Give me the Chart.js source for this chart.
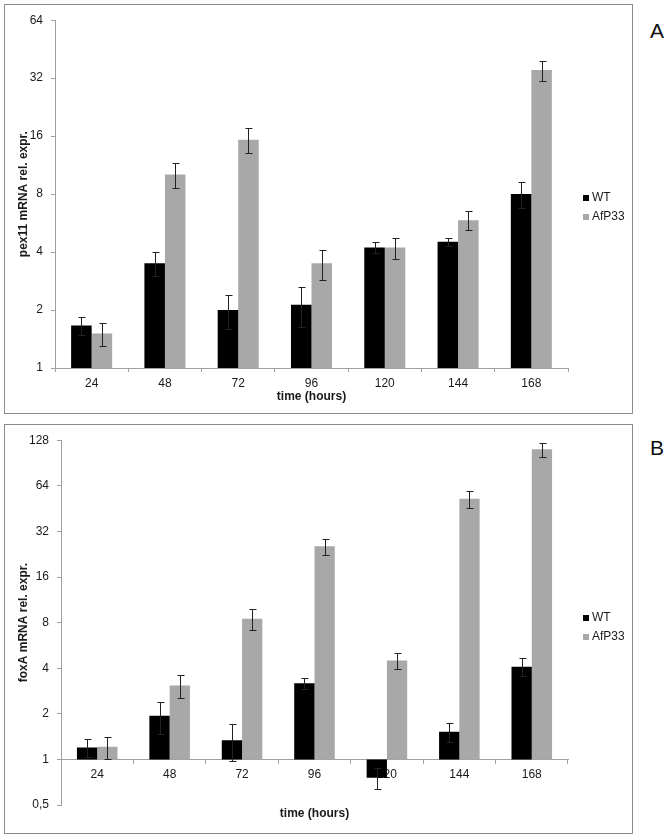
<!DOCTYPE html>
<html>
<head>
<meta charset="utf-8">
<script src="https://cdn.jsdelivr.net/npm/chart.js@4/dist/chart.umd.min.js"></script>
<style>
	body { margin: 0; background: #fff; width: 671px; height: 839px; position: relative; font-family: 'Liberation Sans', Arial, sans-serif; }
	.panel { position: absolute; left: 4px; width: 629px; height: 410px; box-sizing: border-box; border: 1px solid #8c8c8c; }
	.panel canvas { display: block; }
	.letter { position: absolute; left: 650px; font-size: 21px; color: #111; line-height: 21px; }
</style>
</head>
<body>
<div class="panel" style="top:4px"><canvas id="pex11" width="627" height="408"></canvas></div>
<div class="letter" style="top:20px">A</div>
<div class="panel" style="top:424px"><canvas id="foxA" width="627" height="408"></canvas></div>
<div class="letter" style="top:437px">B</div>
<script>
var hours = ['24', '48', '72', '96', '120', '144', '168'];

// panel A - pex11
var pex11WT = [1.66, 3.5, 2.0, 2.13, 4.22, 4.53, 8.0];
var pex11WTErr = [0.17, 0.5, 0.4, 0.5, 0.28, 0.23, 1.2];
var pex11AfP33 = [1.51, 10.1, 15.3, 3.5, 4.22, 5.85, 35.3];
var pex11AfP33Err = [0.21, 1.45, 2.25, 0.62, 0.53, 0.65, 4.2];
var ticksA = [1, 2, 4, 8, 16, 32, 64];
var tickLabelsA = ['1', '2', '4', '8', '16', '32', '64'];

// panel B - foxA
var foxAWT = [1.2, 1.94, 1.34, 3.18, 0.757, 1.52, 4.09];
var foxAWTErr = [0.16, 0.46, 0.37, 0.25, 0.12, 0.21, 0.56];
var foxAAfP33 = [1.21, 3.08, 8.47, 25.5, 4.49, 52.5, 111.7];
var foxAAfP33Err = [0.2, 0.53, 1.35, 3.2, 0.55, 6.5, 11.8];
var ticksB = [0.5, 1, 2, 4, 8, 16, 32, 64, 128];
var tickLabelsB = ['0,5', '1', '2', '4', '8', '16', '32', '64', '128'];

Chart.defaults.font.family = "'Liberation Sans', Arial, sans-serif";
Chart.defaults.font.size = 12;
Chart.defaults.color = '#1a1a1a';

var axisGrey = '#a0a0a0';

// error bars, symmetric sd around the bar value
var errorBars = {
	id: 'errorBars',
	afterDatasetsDraw: function(chart) {
		var ctx = chart.ctx;
		var y = chart.scales.y;
		ctx.save();
		ctx.strokeStyle = '#222';
		ctx.lineWidth = 1;
		chart.data.datasets.forEach(function(ds, i) {
			var meta = chart.getDatasetMeta(i);
			meta.data.forEach(function(bar, j) {
				var v = ds.values[j], e = ds.errors[j];
				var x = Math.round(bar.x) + 0.5;
				var top = Math.round(y.getPixelForValue(v + e)) + 0.5;
				var bot = Math.round(y.getPixelForValue(v - e)) + 0.5;
				ctx.beginPath();
				ctx.moveTo(x, top); ctx.lineTo(x, bot);
				ctx.moveTo(x - 3, top); ctx.lineTo(x + 4, top);
				ctx.moveTo(x - 3, bot); ctx.lineTo(x + 4, bot);
				ctx.stroke();
			});
		});
		ctx.restore();
	}
};

// small legend on the right, centred on the panel
var sideLegend = {
	id: 'sideLegend',
	afterDraw: function(chart) {
		var ctx = chart.ctx;
		var x = chart.chartArea.right + 15;
		var mid = chart.height / 2 - 2;
		ctx.save();
		ctx.font = '12px ' + Chart.defaults.font.family;
		ctx.textBaseline = 'middle';
		chart.data.datasets.forEach(function(ds, i) {
			var yy = Math.round(mid - 9 + i * 19);
			ctx.fillStyle = ds.backgroundColor;
			ctx.fillRect(x, yy - 3, 6, 6);
			ctx.fillStyle = '#1a1a1a';
			ctx.fillText(ds.label, x + 9, yy);
		});
		ctx.restore();
	}
};

var makeChart = function(id, wt, wtErr, afp, afpErr, yTitle, ticks, tickLabels, opts) {
	var yScale = {
		type: 'logarithmic',
		min: ticks[0],
		max: ticks[ticks.length - 1],
		afterBuildTicks: function(axis) {
			axis.ticks = ticks.map(function(v) { return { value: v }; });
		},
		afterFit: function(axis) { axis.width = opts.yWidth; },
		ticks: {
			autoSkip: false,
			padding: 8,
			callback: function(value, index) { return tickLabels[index]; }
		},
		grid: { drawOnChartArea: false, drawTicks: true, tickLength: 4, color: axisGrey },
		border: { color: axisGrey },
		title: { display: true, text: yTitle, font: { weight: 'bold', size: 12 }, padding: { top: 11, bottom: 4 } }
	};
	var xScale = {
		type: 'category',
		offset: true,
		grid: { offset: true, drawOnChartArea: false, drawTicks: true, tickLength: 4, color: axisGrey },
		border: { color: axisGrey },
		ticks: { padding: 4, maxRotation: 0, autoSkip: false }
	};
	var scales = { y: yScale, x: xScale };
	if (opts.axisAtOne) {
		// category axis crosses at 1, title sits at the bottom on a second axis
		xScale.position = { y: 1 };
		scales.x2 = {
			type: 'category',
			position: 'bottom',
			grid: { display: false },
			border: { display: false },
			ticks: { display: false },
			afterFit: function(axis) { axis.height = opts.xHeight; },
			title: { display: true, text: 'time (hours)', font: { weight: 'bold', size: 12 }, padding: { top: 4, bottom: opts.titlePad } }
		};
	} else {
		xScale.position = 'bottom';
		xScale.afterFit = function(axis) { axis.height = opts.xHeight; };
		xScale.title = { display: true, text: 'time (hours)', font: { weight: 'bold', size: 12 }, padding: { top: 4, bottom: opts.titlePad } };
	}

	var config = {
		type: 'bar',
		data: {
			labels: hours,
			datasets: [ {
				label: 'WT',
				data: wt.map(function(v) { return [1, v]; }),
				values: wt,
				errors: wtErr,
				backgroundColor: '#000000',
				categoryPercentage: 0.56,
				barPercentage: 1.0
			}, {
				label: 'AfP33',
				data: afp.map(function(v) { return [1, v]; }),
				values: afp,
				errors: afpErr,
				backgroundColor: '#a8a8a8',
				categoryPercentage: 0.56,
				barPercentage: 1.0
			} ]
		},
		options: {
			responsive: false,
			animation: false,
			layout: { padding: opts.padding, autoPadding: false },
			plugins: { legend: { display: false }, tooltip: { enabled: false } },
			scales: scales
		},
		plugins: [ errorBars, sideLegend ]
	};
	var ctx = document.getElementById(id).getContext('2d');
	return new Chart(ctx, config);
};

window.chartA = makeChart('pex11', pex11WT, pex11WTErr, pex11AfP33, pex11AfP33Err,
	'pex11 mRNA rel. expr.', ticksA, tickLabelsA,
	{ yWidth: 50, xHeight: 40, titlePad: 4, padding: { left: 0, right: 64, top: 11, bottom: 5 } });

window.chartB = makeChart('foxA', foxAWT, foxAWTErr, foxAAfP33, foxAAfP33Err,
	'foxA mRNA rel. expr.', ticksB, tickLabelsB,
	{ yWidth: 56, xHeight: 28, titlePad: 12, axisAtOne: true, padding: { left: 0, right: 64, top: 7, bottom: 0 } });
</script>
</body>
</html>
